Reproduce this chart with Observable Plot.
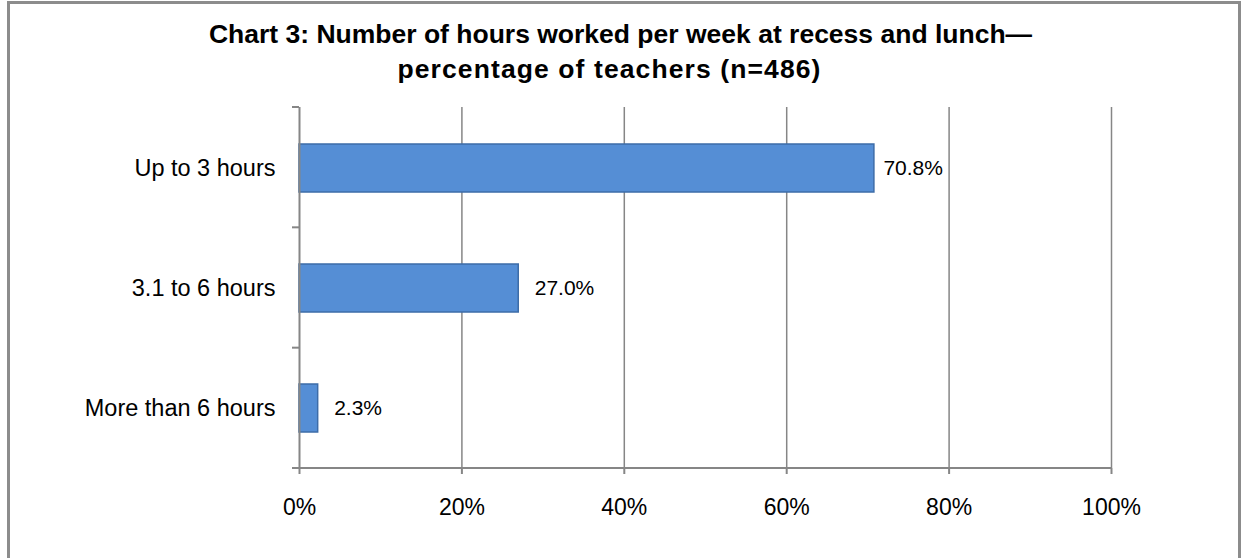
<!DOCTYPE html>
<html><head><meta charset="utf-8">
<script src="https://cdn.jsdelivr.net/npm/d3@7"></script>
<script src="https://cdn.jsdelivr.net/npm/@observablehq/plot@0.6"></script>
<style>
html,body{margin:0;padding:0;background:#fff;}
body{width:1241px;height:558px;overflow:hidden;position:relative;font-family:"Liberation Sans",Arial,sans-serif;}
#frame{position:absolute;left:7px;top:1px;width:1234px;height:620px;border:3px solid #8c8c8c;box-sizing:border-box;pointer-events:none;z-index:2;}
#title{position:absolute;left:0;top:0;width:1241px;height:90px;font-weight:bold;font-size:26.5px;color:#000;}
#title .l1{position:absolute;left:0;width:1241px;text-align:center;top:18px;line-height:32px;}
#title .l2{position:absolute;left:0;width:1219px;text-align:center;top:53px;line-height:32px;letter-spacing:1.1px;}
#chart{position:absolute;left:0;top:90px;}
</style>
</head><body>
<div id="frame"></div>
<div id="title"><div class="l1">Chart 3: Number of hours worked per week at recess and lunch—</div><div class="l2">percentage of teachers (n=486)</div></div>
<div id="chart"></div>
<script>
const categories = ["Up to 3 hours", "3.1 to 6 hours", "More than 6 hours"];
const percentages = [70.8, 27.0, 2.3];
const xTicks = [0, 20, 40, 60, 80, 100];

const data = categories.map((c, i) => ({category: c, value: percentages[i]}));
const gray = "#868686";

function axisFurniture(index, scales, values, dims) {
  const top = dims.marginTop, bottom = dims.height - dims.marginBottom;
  const x0 = scales.x(xTicks[0]), x1 = scales.x(xTicks[xTicks.length - 1]);
  const n = categories.length;
  const g = d3.create("svg:g").attr("stroke", gray).attr("stroke-width", 2).attr("fill", "none");
  g.append("line").attr("x1", x0 - 7).attr("x2", x1).attr("y1", bottom).attr("y2", bottom);
  for (let k = 0; k < n; k++) {
    const y = top + k * (bottom - top) / n;
    g.append("line").attr("x1", x0 - 7).attr("x2", x0).attr("y1", y).attr("y2", y);
  }
  return g.node();
}

const labelText = d => d.value.toFixed(1) + "%";

const chart = Plot.plot({
  width: 1241, height: 468,
  marginTop: 17, marginBottom: 90, marginLeft: 299, marginRight: 130,
  style: {fontFamily: "'Liberation Sans', Arial, sans-serif", background: "#fff", overflow: "visible", color: "#000"},
  x: {domain: [0, 100]},
  y: {domain: categories, paddingInner: 0.6, paddingOuter: 0.3},
  marks: [
    Plot.gridX(xTicks.slice(1), {stroke: gray, strokeOpacity: 1, strokeWidth: 1.5}),
    Plot.axisX(xTicks, {tickSize: 6, tickPadding: 24, tickFormat: d => d + "%", fontSize: 23, stroke: gray, strokeWidth: 2, fill: "#000", label: null}),
    Plot.axisY({tickSize: 0, tickPadding: 24, fontSize: 23.5, fill: "#000", label: null}),
    Plot.barX(data, {x: "value", y: "category", fill: "#558ed5", stroke: "#3d6ca8", strokeWidth: 1.5}),
    Plot.ruleX([0], {stroke: gray, strokeWidth: 2}),
    axisFurniture,
    Plot.text(data.slice(0, 1), {x: "value", y: "category", text: labelText, textAnchor: "start", dx: 9, fontSize: 21, fill: "#000"}),
    Plot.text(data.slice(1), {x: "value", y: "category", text: labelText, textAnchor: "start", dx: 16, fontSize: 21, fill: "#000"})
  ]
});
document.getElementById("chart").appendChild(chart);
</script>
</body></html>
